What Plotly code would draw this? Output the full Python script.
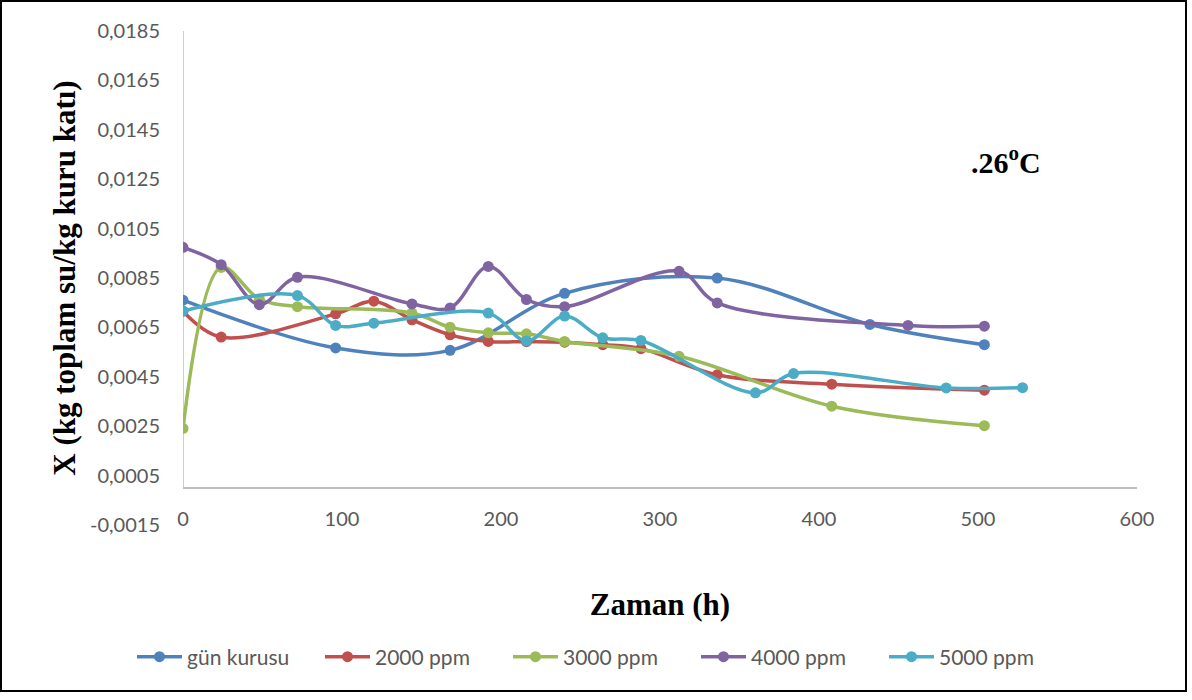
import plotly.graph_objects as go

# ---- data ----
gun_x = [0, 96, 168, 240, 336, 432, 504]
gun_y = [0.0076, 0.00567, 0.00557, 0.00788, 0.0085, 0.00662, 0.0058]

p2000_x = [0, 24, 96, 120, 144, 168, 192, 216, 240, 264, 288, 336, 408, 504]
p2000_y = [0.00716, 0.00611, 0.00705, 0.00756, 0.00681, 0.0062, 0.00593, 0.00592,
           0.0059, 0.0058, 0.00564, 0.00458, 0.0042, 0.00396]

p3000_x = [0, 24, 48, 72, 144, 168, 192, 216, 240, 312, 408, 504]
p3000_y = [0.00241, 0.00893, 0.00765, 0.00734, 0.00708, 0.00651, 0.00628, 0.00624,
           0.00593, 0.00533, 0.00331, 0.00252]

p4000_x = [0, 24, 48, 72, 144, 168, 192, 216, 240, 312, 336, 456, 504]
p4000_y = [0.00974, 0.00904, 0.00742, 0.00853, 0.00745, 0.00729, 0.00897, 0.00763,
           0.00734, 0.00877, 0.00749, 0.00658, 0.00655]

p5000_x = [0, 72, 96, 120, 192, 216, 240, 264, 288, 360, 384, 480, 528]
p5000_y = [0.00716, 0.00779, 0.00658, 0.00667, 0.00708, 0.00595, 0.00696, 0.00608,
           0.00597, 0.00385, 0.00463, 0.00405, 0.00406]

series_names = ["gün kurusu", "2000 ppm", "3000 ppm", "4000 ppm", "5000 ppm"]
series_x = [gun_x, p2000_x, p3000_x, p4000_x, p5000_x]
series_y = [gun_y, p2000_y, p3000_y, p4000_y, p5000_y]
colors = ["#4F81BD", "#C0504D", "#9BBB59", "#8064A2", "#4BACC6"]

x_ticks = [0, 100, 200, 300, 400, 500, 600]
y_ticks = [-0.0015, 0.0005, 0.0025, 0.0045, 0.0065, 0.0085, 0.0105, 0.0125,
           0.0145, 0.0165, 0.0185]
y_tick_text = [f"{v:.4f}".replace(".", ",") for v in y_ticks]

# ---- layout geometry (px) ----
W, H = 1192, 700
L, R, T, B = 183, 55, 31, 175
PW, PH = W - L - R, H - T - B


def px_x(px):
    return (px - L) / PW


def px_y(py):
    return (H - B - py) / PH


fig = go.Figure()
for name, xs, ys, c in zip(series_names, series_x, series_y, colors):
    fig.add_trace(go.Scatter(
        x=xs, y=ys, name=name, mode="lines+markers",
        line=dict(color=c, width=3.5, shape="spline", smoothing=1),
        marker=dict(color=c, size=11),
    ))

tick_font = dict(family="Lato, Open Sans, sans-serif", size=20, color="#595959")
legend_font = dict(family="Lato, Open Sans, sans-serif", size=21, color="#595959")
title_font = dict(family="Liberation Serif, Times New Roman, serif", size=31, color="#000000")

fig.update_layout(
    width=W, height=H,
    margin=dict(l=L, r=R, t=T, b=B, autoexpand=False),
    paper_bgcolor="white", plot_bgcolor="white",
    showlegend=True,
    legend=dict(orientation="h", x=px_x(602), xanchor="center",
                y=px_y(657), yanchor="middle", font=legend_font,
                entrywidth=128, entrywidthmode="pixels", itemwidth=45,
                bgcolor="rgba(0,0,0,0)"),
    xaxis=dict(range=[0, 600], tickvals=x_ticks, showgrid=False, zeroline=False,
               showline=False, ticks="", tickfont=tick_font,
               anchor="free", position=px_y(505),
               title=dict(text="<b>Zaman (h)</b>", font=title_font, standoff=64)),
    yaxis=dict(range=[y_ticks[0], y_ticks[-1]], tickvals=y_ticks, ticktext=y_tick_text,
               showgrid=False, zeroline=True, zerolinecolor="#BFBFBF", zerolinewidth=1.5,
               showline=False, ticks="", tickfont=tick_font, ticklabelstandoff=22,
               title=dict(text="<b>X (kg toplam su/kg kuru katı)</b>", font=title_font,
                          standoff=5)),
    shapes=[
        dict(type="line", xref="x", yref="y", x0=0, x1=0, y0=0, y1=y_ticks[-1],
             line=dict(color="#BFBFBF", width=1.5), layer="below"),
        dict(type="rect", xref="paper", yref="paper",
             x0=px_x(1), x1=px_x(1186), y0=px_y(1), y1=px_y(691),
             line=dict(color="#000000", width=2)),
    ],
    annotations=[
        dict(text="<b>.26<sup>o</sup>C</b>", xref="paper", yref="paper",
             x=px_x(1006), y=px_y(160), xanchor="center", yanchor="middle",
             showarrow=False,
             font=dict(family="Liberation Serif, Times New Roman, serif", size=30,
                       color="#000000")),
    ],
)

fig.write_html("out.html")
